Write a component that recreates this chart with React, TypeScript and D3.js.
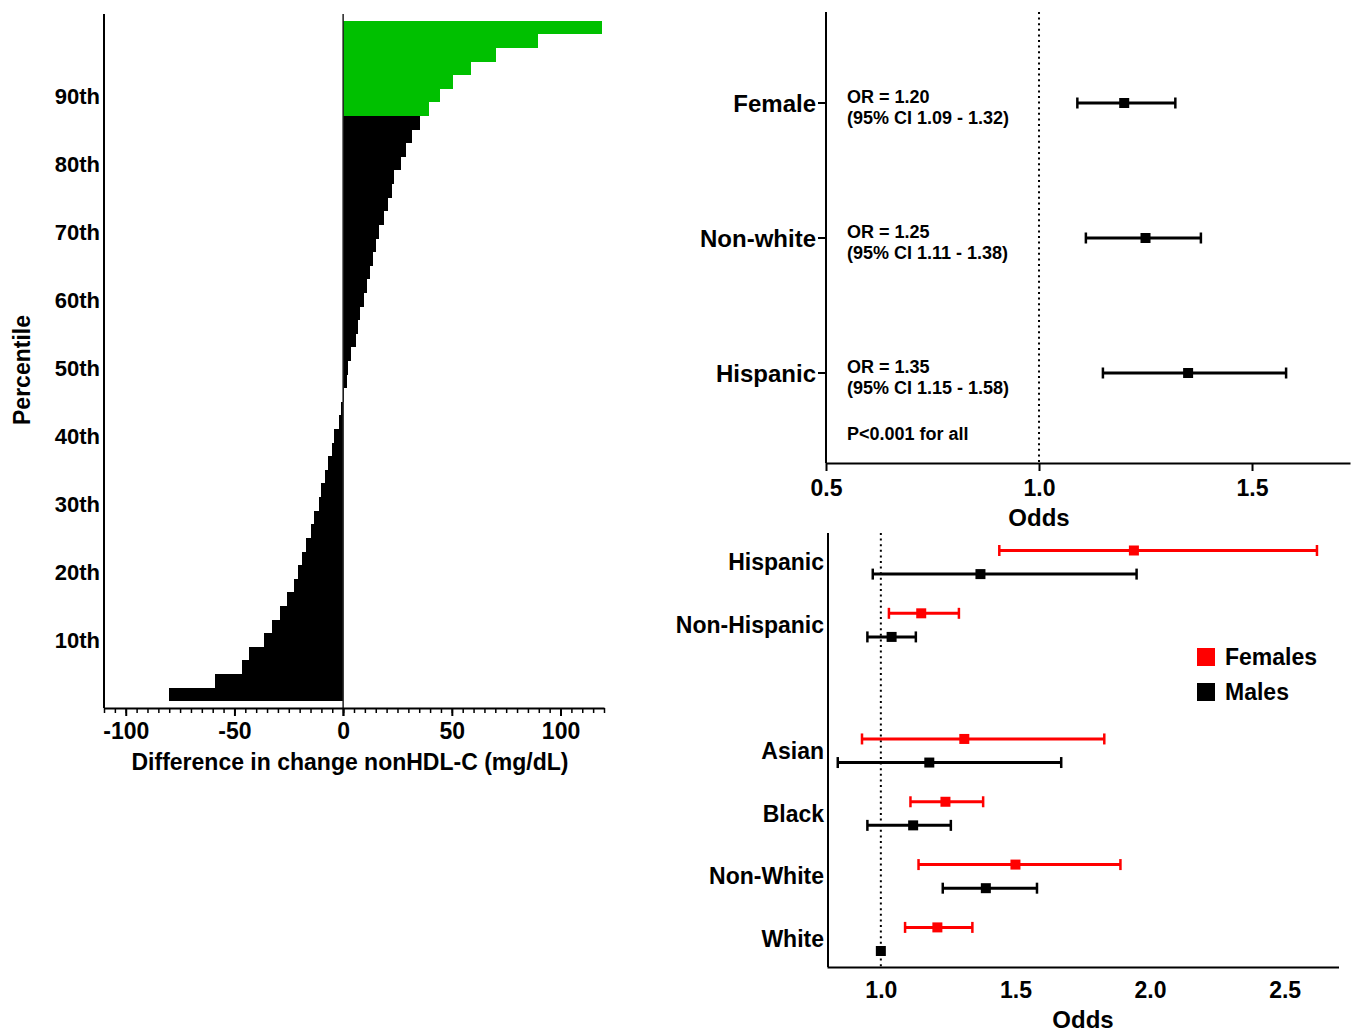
import React, { useEffect, useRef } from 'react'
import * as d3 from 'd3'

// left panel: each bar is a 2-percentile bin, top bar = 100th
const percentiles = [100, 98, 96, 94, 92, 90, 88, 86, 84, 82, 80, 78, 76, 74, 72, 70, 68, 66, 64, 62,
  60, 58, 56, 54, 52, 50, 48, 46, 44, 42, 40, 38, 36, 34, 32, 30, 28, 26, 24, 22,
  20, 18, 16, 14, 12, 10, 8, 6, 4, 2]
const diffValues = [119, 89.5, 70.5, 58.6, 50.6, 44.5, 39.4, 35.3, 31.8, 28.8, 26.6, 23.6, 22.6, 20.8, 19.0,
  16.7, 14.9, 13.8, 12.5, 10.9, 9.6, 7.8, 6.9, 5.8, 3.8, 2.4, 1.7, 0.5, -0.8, -1.8,
  -4.1, -5.2, -6.9, -8.3, -10.1, -11.3, -13.2, -15.0, -17.0, -18.9, -20.9, -22.8, -25.9, -28.9, -32.7,
  -36.5, -43.5, -46.7, -58.8, -79.9]
const greenFrom = 88
const percentileTicks = [90, 80, 70, 60, 50, 40, 30, 20, 10]
const diffTicks = [-100, -50, 0, 50, 100]

// top right: overall odds ratios
const overallGroups = ['Female', 'Non-white', 'Hispanic']
const overallOR = [1.20, 1.25, 1.35]
const overallLo = [1.09, 1.11, 1.15]
const overallHi = [1.32, 1.38, 1.58]
const overallTicks = [0.5, 1.0, 1.5]

// bottom right: odds by sex
const sexRows = ['Hispanic', 'Non-Hispanic', 'gap', 'Asian', 'Black', 'Non-White', 'White']
const sexGroups = ['Hispanic', 'Non-Hispanic', 'Asian', 'Black', 'Non-White', 'White']
const femaleOR = [1.94, 1.15, 1.31, 1.24, 1.50, 1.21]
const femaleLo = [1.44, 1.03, 0.93, 1.11, 1.14, 1.09]
const femaleHi = [2.62, 1.29, 1.83, 1.38, 1.89, 1.34]
const maleOR = [1.37, 1.04, 1.18, 1.12, 1.39, 1.00]
const maleLo = [0.97, 0.95, 0.84, 0.95, 1.23, null]
const maleHi = [1.95, 1.13, 1.67, 1.26, 1.58, null]
const sexTicks = [1.0, 1.5, 2.0, 2.5]

const FONT = "'Liberation Sans', Arial, sans-serif"

export default function App() {
  const svgRef = useRef<SVGSVGElement>(null)

  useEffect(() => {
    const svg = d3.select(svgRef.current)
    svg.selectAll('*').remove()
    svg.attr('font-family', FONT).attr('font-weight', 'bold')

    const styleTicks = (g: any, size: number) =>
      g.selectAll('text').attr('font-size', size).attr('font-family', FONT).attr('font-weight', 'bold').attr('fill', '#000')

    // ---------- left: percentile bars ----------
    const x = d3.scaleLinear().domain([-110, 120]).range([104, 604])
    const y = d3.scaleBand<number>().domain(percentiles).range([14, 708]).paddingInner(0).paddingOuter(0.5)
    const left = svg.append('g')

    left.selectAll('rect')
      .data(percentiles)
      .enter()
      .append('rect')
      .attr('shape-rendering', 'crispEdges')
      .attr('x', (d, i) => x(Math.min(0, diffValues[i])))
      .attr('y', d => Math.round(y(d)!))
      .attr('width', (d, i) => Math.abs(x(diffValues[i]) - x(0)))
      .attr('height', d => Math.round(y(d)! + y.bandwidth()) - Math.round(y(d)!))
      .attr('fill', d => d >= greenFrom ? '#00c000' : '#000')

    left.append('line')
      .attr('x1', x(0)).attr('x2', x(0)).attr('y1', 14).attr('y2', 716)
      .attr('stroke', '#222').attr('stroke-width', 1.5)
    left.append('line')
      .attr('x1', 104).attr('x2', 104).attr('y1', 14).attr('y2', 708)
      .attr('stroke', '#000').attr('stroke-width', 2)

    const minor = left.append('g').attr('transform', 'translate(0,708)')
      .call(d3.axisBottom(x).tickValues(d3.range(-110, 121, 5)).tickSize(5).tickSizeOuter(0).tickFormat(() => ''))
    minor.select('.domain').attr('stroke-width', 2)
    minor.selectAll('.tick line').attr('stroke-width', 1.5)

    const major = left.append('g').attr('transform', 'translate(0,708)')
      .call(d3.axisBottom(x).tickValues(diffTicks).tickSize(8).tickPadding(7).tickSizeOuter(0).tickFormat(d => `${d}`))
    major.select('.domain').remove()
    major.selectAll('.tick line').attr('stroke-width', 2)
    styleTicks(major, 23)

    left.selectAll('.pct')
      .data(percentileTicks)
      .enter()
      .append('text')
      .attr('x', 100)
      .attr('y', d => y(d)! + y.bandwidth() / 2 + 8)
      .attr('text-anchor', 'end')
      .attr('font-size', 22)
      .text(d => `${d}th`)

    left.append('text')
      .attr('transform', 'translate(30,370) rotate(-90)')
      .attr('text-anchor', 'middle').attr('font-size', 23)
      .text('Percentile')
    left.append('text')
      .attr('x', 350).attr('y', 770)
      .attr('text-anchor', 'middle').attr('font-size', 23)
      .text('Difference in change nonHDL-C (mg/dL)')

    // ---------- top right: overall odds ----------
    const xo = d3.scaleLinear().domain([0.5, 1.73]).range([826, 1350])
    const yo = d3.scalePoint<string>().domain(overallGroups).range([103, 373])
    const top = svg.append('g')

    top.append('line')
      .attr('x1', xo(1)).attr('x2', xo(1)).attr('y1', 12).attr('y2', 463)
      .attr('stroke', '#000').attr('stroke-width', 2).attr('stroke-dasharray', '2,3.6')
    top.append('line')
      .attr('x1', 826).attr('x2', 826).attr('y1', 12).attr('y2', 463)
      .attr('stroke', '#000').attr('stroke-width', 2)

    const topAxis = top.append('g').attr('transform', 'translate(0,463)')
      .call(d3.axisBottom(xo).tickValues(overallTicks).tickSize(8).tickPadding(9).tickSizeOuter(0).tickFormat(d3.format('.1f')))
    topAxis.select('.domain').attr('stroke-width', 2)
    topAxis.selectAll('.tick line').attr('stroke-width', 2)
    styleTicks(topAxis, 23)

    overallGroups.forEach((g, i) => {
      const cy = yo(g)!
      top.append('line').attr('x1', 818).attr('x2', 826).attr('y1', cy).attr('y2', cy)
        .attr('stroke', '#000').attr('stroke-width', 2)
      top.append('text').attr('x', 816).attr('y', cy + 8.5).attr('text-anchor', 'end')
        .attr('font-size', 24).text(g)
      top.append('text').attr('x', 847).attr('y', cy)
        .attr('font-size', 18).text(`OR = ${overallOR[i].toFixed(2)}`)
      top.append('text').attr('x', 847).attr('y', cy + 21)
        .attr('font-size', 18).text(`(95% CI ${overallLo[i].toFixed(2)} - ${overallHi[i].toFixed(2)})`)
    })
    top.append('text').attr('x', 847).attr('y', 440).attr('font-size', 18).text('P<0.001 for all')

    const drawBar = (g: any, cx: (number | null)[], cy: number, color: string) => {
      const [lo, mid, hi] = cx
      if (lo != null && hi != null) {
        g.append('line').attr('x1', lo).attr('x2', hi).attr('y1', cy).attr('y2', cy)
          .attr('stroke', color).attr('stroke-width', 3)
        ;[lo, hi].forEach(v => g.append('line').attr('x1', v).attr('x2', v).attr('y1', cy - 5.5).attr('y2', cy + 5.5)
          .attr('stroke', color).attr('stroke-width', 2.5))
      }
      g.append('rect').attr('x', (mid as number) - 5).attr('y', cy - 5).attr('width', 10).attr('height', 10).attr('fill', color)
    }

    overallGroups.forEach((g, i) => {
      drawBar(top, [xo(overallLo[i]), xo(overallOR[i]), xo(overallHi[i])], yo(g)!, '#000')
    })
    top.append('text').attr('x', xo(1)).attr('y', 526).attr('text-anchor', 'middle')
      .attr('font-size', 24).text('Odds')

    // ---------- bottom right: odds by sex ----------
    const xs = d3.scaleLinear().domain([0.8, 2.7]).range([827, 1338.5])
    const ys = d3.scalePoint<string>().domain(sexRows).range([562.3, 939.2])
    const bot = svg.append('g')

    bot.append('line')
      .attr('x1', xs(1)).attr('x2', xs(1)).attr('y1', 533).attr('y2', 967)
      .attr('stroke', '#000').attr('stroke-width', 2).attr('stroke-dasharray', '2,3.6')
    bot.append('line')
      .attr('x1', 828).attr('x2', 828).attr('y1', 533).attr('y2', 967)
      .attr('stroke', '#000').attr('stroke-width', 2)

    const botAxis = bot.append('g').attr('transform', 'translate(0,967)')
      .call(d3.axisBottom(xs).tickValues(sexTicks).tickSize(0).tickPadding(15).tickSizeOuter(0).tickFormat(d3.format('.1f')))
    botAxis.select('.domain').attr('stroke-width', 2)
    styleTicks(botAxis, 23)

    sexGroups.forEach((g, i) => {
      const cy = ys(g)!
      bot.append('text').attr('x', 824).attr('y', cy + 8).attr('text-anchor', 'end')
        .attr('font-size', 23).text(g)
      drawBar(bot, [xs(femaleLo[i]), xs(femaleOR[i]), xs(femaleHi[i])], cy - 11.8, '#ff0000')
      const ml = maleLo[i], mh = maleHi[i]
      drawBar(bot, [ml == null ? null : xs(ml), xs(maleOR[i]), mh == null ? null : xs(mh)], cy + 11.8, '#000')
    })

    const legend = [['Females', '#ff0000'], ['Males', '#000']]
    legend.forEach(([name, color], i) => {
      bot.append('rect').attr('x', 1197).attr('y', 648 + i * 35).attr('width', 18).attr('height', 18).attr('fill', color)
      bot.append('text').attr('x', 1225).attr('y', 665 + i * 35).attr('font-size', 23).text(name)
    })

    bot.append('text').attr('x', (828 + 1338) / 2).attr('y', 1028).attr('text-anchor', 'middle')
      .attr('font-size', 24).text('Odds')
  }, [])

  return (
    <svg ref={svgRef} width={1352} height={1032}
      style={{ position: 'absolute', left: 0, top: 0, background: '#fff' }}></svg>
  )
}
